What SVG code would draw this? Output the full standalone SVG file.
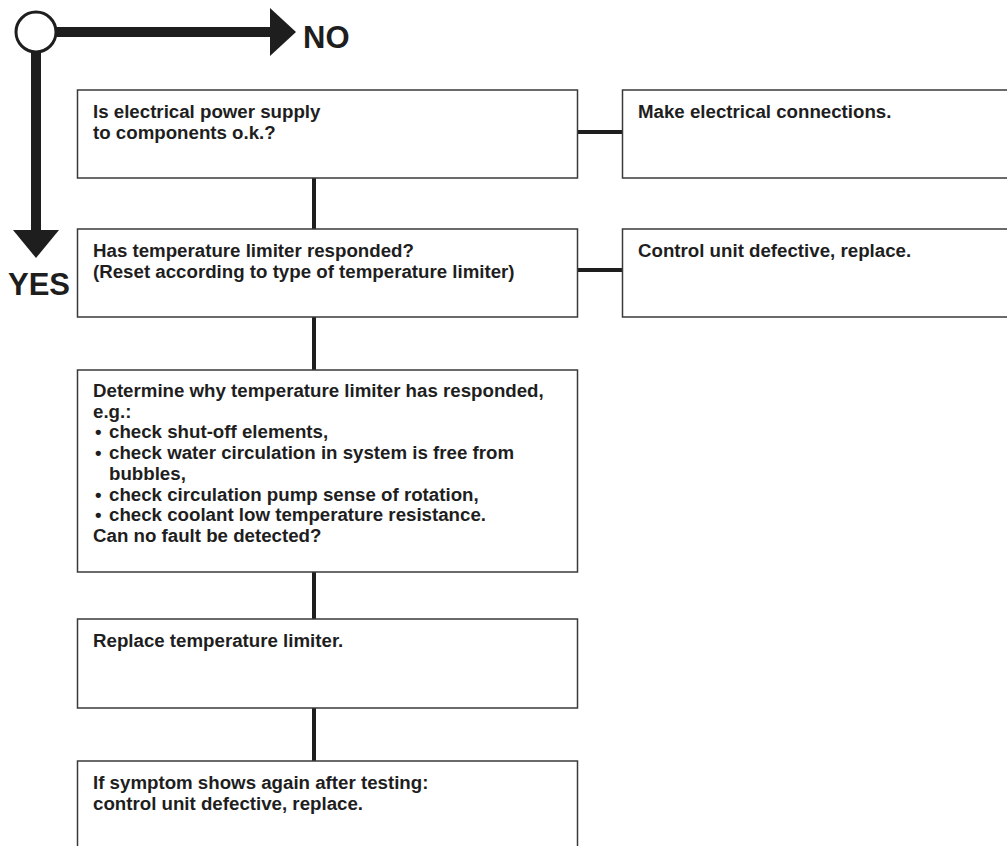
<svg xmlns="http://www.w3.org/2000/svg" width="1007" height="846" viewBox="0 0 1007 846">
<style>
.box{fill:#fff;stroke:#3a3a3a;stroke-width:1.5}
.t{font-family:"Liberation Sans",Arial,sans-serif;font-weight:bold;font-size:18.7px;fill:#1e1e1e}
.big{font-family:"Liberation Sans",Arial,sans-serif;font-weight:bold;font-size:31px;fill:#1e1e1e}
.c{stroke:#1e1e1e;stroke-width:4;fill:none}
.a{stroke:#1e1e1e;stroke-width:10;fill:none}
.ah{fill:#1e1e1e}
</style>
<rect width="1007" height="846" fill="#fff"/>
<g id="legend">
  <line class="a" x1="54" y1="32" x2="272" y2="32"/>
  <polygon class="ah" points="270,8 296,32 270,56"/>
  <line class="a" x1="36" y1="50" x2="36" y2="232"/>
  <polygon class="ah" points="13,230 59,230 36,258"/>
  <circle cx="36" cy="32" r="20" fill="#fff" stroke="#1e1e1e" stroke-width="3"/>
  <text class="big" x="303" y="48">NO</text>
  <text class="big" x="8" y="295">YES</text>
</g>
<g id="connectors">
  <line class="c" x1="314" y1="178" x2="314" y2="229"/>
  <line class="c" x1="314" y1="317" x2="314" y2="370"/>
  <line class="c" x1="314" y1="572" x2="314" y2="619"/>
  <line class="c" x1="314" y1="708" x2="314" y2="761"/>
  <line class="c" x1="578" y1="132" x2="622" y2="132"/>
  <line class="c" x1="578" y1="270" x2="622" y2="270"/>
</g>
<g id="n1">
  <rect class="box" x="77.5" y="90" width="500" height="88"/>
  <text class="t" x="93" y="118">Is electrical power supply</text>
  <text class="t" x="93" y="139">to components o.k.?</text>
</g>
<g id="n2">
  <rect class="box" x="622.5" y="90" width="400" height="88"/>
  <text class="t" x="638" y="118">Make electrical connections.</text>
</g>
<g id="n3">
  <rect class="box" x="77.5" y="229" width="500" height="88"/>
  <text class="t" x="93" y="257">Has temperature limiter responded?</text>
  <text class="t" x="93" y="278">(Reset according to type of temperature limiter)</text>
</g>
<g id="n4">
  <rect class="box" x="622.5" y="229" width="400" height="88"/>
  <text class="t" x="638" y="257">Control unit defective, replace.</text>
</g>
<g id="n5">
  <rect class="box" x="77.5" y="370" width="500" height="202"/>
  <text class="t" x="93" y="397">Determine why temperature limiter has responded,</text>
  <text class="t" x="93" y="418">e.g.:</text>
  <text class="t" x="95" y="438">•</text>
  <text class="t" x="109" y="438">check shut-off elements,</text>
  <text class="t" x="95" y="459">•</text>
  <text class="t" x="109" y="459">check water circulation in system is free from</text>
  <text class="t" x="109" y="480">bubbles,</text>
  <text class="t" x="95" y="501">•</text>
  <text class="t" x="109" y="501">check circulation pump sense of rotation,</text>
  <text class="t" x="95" y="521">•</text>
  <text class="t" x="109" y="521">check coolant low temperature resistance.</text>
  <text class="t" x="93" y="542">Can no fault be detected?</text>
</g>
<g id="n6">
  <rect class="box" x="77.5" y="619" width="500" height="89"/>
  <text class="t" x="93" y="647">Replace temperature limiter.</text>
</g>
<g id="n7">
  <rect class="box" x="77.5" y="761" width="500" height="100"/>
  <text class="t" x="93" y="789">If symptom shows again after testing:</text>
  <text class="t" x="93" y="810">control unit defective, replace.</text>
</g>
</svg>
